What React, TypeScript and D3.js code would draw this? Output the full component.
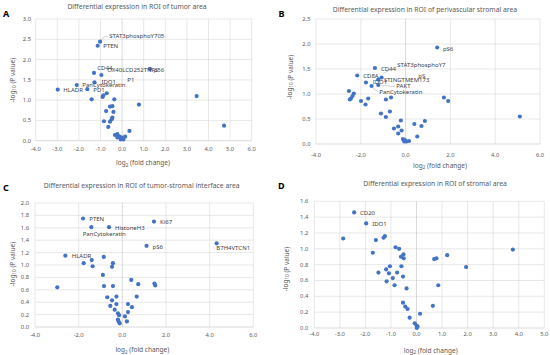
import React from 'react';
import * as d3 from 'd3';

type Pt = [number, number];
// label: text, index of the point it belongs to, pixel offset dx, dy, optional leader [x1,y1,x2,y2] relative to point
type Lab = [string, number, number, number, number[]?];

// ---- A: tumor area
const tumorPts: Pt[] = [
  [-1.02, 2.44], [-1.13, 2.34], [-1.30, 1.67], [-0.96, 1.62], [1.29, 1.77],
  [-1.28, 1.44], [-2.10, 1.37], [-2.98, 1.26], [-1.61, 1.27], [-0.71, 1.17],
  [-0.87, 1.12], [-0.90, 1.08], [-1.41, 1.02], [-0.36, 1.02], [0.78, 0.89],
  [3.45, 1.10], [4.72, 0.37], [-0.56, 0.84], [-0.45, 0.85], [-0.74, 0.73],
  [-0.40, 0.71], [-0.45, 0.57], [-0.48, 0.53], [-0.84, 0.48], [-0.56, 0.47],
  [-0.64, 0.34], [0.34, 0.24], [-0.33, 0.14], [-0.22, 0.16], [-0.13, 0.10],
  [-0.03, 0.08], [0.06, 0.03], [0.14, 0.10], [-0.06, 0.03], [-0.22, 0.08],
];
const tumorLabels: Lab[] = [
  ['STAT3phosphoY705', 0, 9.2, -4.9, [1.6, -1.6, 4, -5, 8, -5]],
  ['PTEN', 1, 5.6, 0.3],
  ['CD44', 2, 3.3, -4.6],
  ['OX40LCD252TNFS', 3, 5.9, -4.2],
  ['p56', 4, 3.6, 1],
  ['IDO1', 5, 7, 0],
  ['PanCytokeratin', 6, 5.6, 0.6],
  ['HLADR', 7, 5.6, 1],
  ['PD1', 8, 6, 1.5],
  ['P1', 3, 26, 5.8],
];
const tumorX = [-4, -3, -2, -1, 0, 1, 2, 3, 4, 5, 6];
const tumorY = [0, 0.5, 1, 1.5, 2, 2.5, 3];

// ---- B: perivascular stromal area
const periPts: Pt[] = [
  [1.41, 1.93], [-1.37, 1.52], [-2.16, 1.37], [-1.07, 1.33], [-1.22, 1.29],
  [-1.77, 1.23], [-1.22, 1.18], [-1.52, 1.16], [-2.53, 1.06], [-2.31, 1.01],
  [-2.37, 0.96], [-2.44, 0.91], [-2.49, 0.89], [-1.99, 0.86], [-1.67, 0.91],
  [-1.79, 0.79], [-0.88, 0.89], [-0.65, 0.93], [1.71, 0.93], [1.90, 0.86],
  [5.10, 0.55], [-1.10, 0.61], [-0.70, 0.65], [-0.88, 0.54], [-0.21, 0.47],
  [-0.52, 0.31], [-0.33, 0.35], [-0.18, 0.27], [-0.33, 0.21], [0.39, 0.40],
  [0.71, 0.36], [0.86, 0.46], [0.52, 0.15], [-0.12, 0.10], [-0.03, 0.08],
  [0.04, 0.05], [0.15, 0.06], [-0.06, 0.05],
];
const periLabels: Lab[] = [
  ['pS6', 0, 5.7, 1.5],
  ['CD44', 1, 6, 1],
  ['CD8A', 2, 6, 1],
  ['STAT3phosphoY7', 3, 15.7, -11.8, [1.7, -4.2, 15, -10.8]],
  ['STINGTMEM173', 4, 5.7, 0.5],
  ['IDO1', 5, 6.7, 0],
  ['PAKT', 6, 18, 1.7, [3, 0.5, 17, 1.5]],
  ['PanCytokeratin', 7, 7.7, 6.3, [1.5, 2, 7, 6]],
  ['pS', 3, 36.7, -1.5],
];
const periX = [-4, -2, 0, 2, 4, 6];
const periY = [0, 0.5, 1, 1.5, 2, 2.5];

// ---- C: tumor-stromal interface area
const interPts: Pt[] = [
  [-1.80, 1.75], [-1.42, 1.61], [-0.61, 1.61], [1.45, 1.70], [1.11, 1.31],
  [4.32, 1.35], [-2.61, 1.15], [-1.77, 1.03], [-1.40, 1.08], [-1.36, 0.98],
  [-0.85, 1.13], [-0.43, 1.03], [-0.47, 0.97], [-0.89, 0.84], [-2.98, 0.64],
  [-0.84, 0.66], [-0.43, 0.66], [0.41, 0.76], [0.73, 0.69], [1.47, 0.70],
  [1.51, 0.67], [0.66, 0.49], [-0.69, 0.48], [-0.27, 0.49], [-0.47, 0.43],
  [-0.27, 0.37], [-0.55, 0.34], [0.26, 0.37], [0.44, 0.32], [-0.35, 0.28],
  [-0.20, 0.22], [-0.15, 0.19], [0.26, 0.24], [0.12, 0.17], [-0.20, 0.12],
  [-0.17, 0.09], [-0.12, 0.06], [0.21, 0.09],
];
const interLabels: Lab[] = [
  ['PTEN', 0, 6.3, 1],
  ['PanCytokeratin', 1, -8.6, 7.1],
  ['HistoneH3', 2, 6, 1],
  ['Ki67', 3, 6, 0.7],
  ['pS6', 4, 6, 1.5],
  ['B7H4VTCN1', 5, -0.3, 5.5],
  ['HLADR', 6, 6.4, 1],
];
const interX = [-4, -2, 0, 2, 4, 6];
const interY = [0, 0.2, 0.4, 0.6, 0.8, 1, 1.2, 1.4, 1.6, 1.8, 2];

// ---- D: stromal area
const stromPts: Pt[] = [
  [-2.44, 1.46], [-1.97, 1.32], [-2.87, 1.13], [-1.59, 1.11], [-1.29, 1.14],
  [-1.24, 1.16], [-1.71, 0.95], [-0.82, 1.02], [-0.68, 1.00], [-0.51, 0.93],
  [-0.61, 0.90], [-0.50, 0.88], [-0.59, 0.78], [-1.04, 0.78], [-1.19, 0.74],
  [-1.49, 0.70], [-1.08, 0.69], [-0.76, 0.70], [-0.53, 0.65], [-0.93, 0.63],
  [-1.17, 0.59], [-0.86, 0.54], [-0.39, 0.50], [0.69, 0.87], [0.78, 0.88],
  [1.20, 0.92], [1.94, 0.77], [3.77, 0.99], [0.85, 0.54], [0.64, 0.28],
  [-0.53, 0.32], [-0.44, 0.27], [-0.35, 0.24], [-0.27, 0.13], [0.14, 0.18],
  [-0.07, 0.06], [0.00, 0.03], [0.01, 0.00], [0.04, 0.02],
];
const stromLabels: Lab[] = [
  ['CD20', 0, 5.8, 0.6],
  ['IDO1', 1, 6, 1],
];
const stromX = [-4, -3, -2, -1, 0, 1, 2, 3, 4, 5];
const stromY = [0, 0.2, 0.4, 0.6, 0.8, 1, 1.2, 1.4, 1.6];

const grey = '#595959';
const font = '"Noto Sans", "Open Sans", sans-serif';

type Cfg = {
  letter: string; title: string; pts: Pt[]; labels: Lab[]; xt: number[]; yt: number[];
  l: number; r: number; t: number; b: number;
  titleX: number; titleY: number; letterX: number; letterY: number;
  yLabX: number; xLabY: number; xTitleX: number; xTitleY: number; yTitleX: number; yTitleY: number;
};

const panels: Cfg[] = [
  { letter: 'A', title: 'Differential expression in ROI of tumor area', pts: tumorPts, labels: tumorLabels, xt: tumorX, yt: tumorY,
    l: 35.7, r: 251.7, t: 19, b: 140.7, titleX: 137, titleY: 9.2, letterX: 3, letterY: 16.5,
    yLabX: 31, xLabY: 151, xTitleX: 143, xTitleY: 165, yTitleX: 13, yTitleY: 80 },
  { letter: 'B', title: 'Differential expression in ROI of perivascular stromal area', pts: periPts, labels: periLabels, xt: periX, yt: periY,
    l: 316, r: 540, t: 19, b: 144, titleX: 425, titleY: 12.4, letterX: 278.5, letterY: 17,
    yLabX: 310.5, xLabY: 157, xTitleX: 440, xTitleY: 167.5, yTitleX: 290.7, yTitleY: 77 },
  { letter: 'C', title: 'Differential expression in ROI of tumor-stromal interface area', pts: interPts, labels: interLabels, xt: interX, yt: interY,
    l: 35, r: 253.3, t: 203, b: 327, titleX: 141.7, titleY: 188.4, letterX: 3, letterY: 190.5,
    yLabX: 29, xLabY: 336.5, xTitleX: 142.3, xTitleY: 352, yTitleX: 13.3, yTitleY: 264 },
  { letter: 'D', title: 'Differential expression in ROI of stromal area', pts: stromPts, labels: stromLabels, xt: stromX, yt: stromY,
    l: 314.3, r: 544.3, t: 201.3, b: 328, titleX: 435, titleY: 186, letterX: 278, letterY: 188.5,
    yLabX: 308.3, xLabY: 336, xTitleX: 430.7, xTitleY: 352.7, yTitleX: 286.7, yTitleY: 269 },
];

const Panel = ({ c }: { c: Cfg }) => {
  const x = d3.scaleLinear().domain(d3.extent(c.xt) as [number, number]).range([c.l, c.r]);
  const y = d3.scaleLinear().domain(d3.extent(c.yt) as [number, number]).range([c.b, c.t]);
  return (
    <g fontFamily={font}>
      <text x={c.letterX} y={c.letterY} fontSize={9} fontWeight="bold" fill="#000">{c.letter}</text>
      <text x={c.titleX} y={c.titleY} fontSize={6.8} fill={grey} textAnchor="middle">{c.title}</text>
      {c.yt.map(v => (
        <line key={'h' + v} x1={c.l} x2={c.r} y1={y(v)} y2={y(v)} stroke={v === 0 ? '#bfbfbf' : '#d9d9d9'} strokeWidth={0.6} />
      ))}
      {c.xt.map(v => (
        <line key={'v' + v} x1={x(v)} x2={x(v)} y1={c.t} y2={c.b} stroke={v === 0 ? '#bfbfbf' : '#d9d9d9'} strokeWidth={0.6} />
      ))}
      {c.yt.map(v => (
        <text key={'yl' + v} x={c.yLabX} y={y(v) + 2} fontSize={5.8} fill={grey} textAnchor="end">{v.toFixed(1)}</text>
      ))}
      {c.xt.map(v => (
        <text key={'xl' + v} x={x(v)} y={c.xLabY} fontSize={5.8} fill={grey} textAnchor="middle">{v.toFixed(1)}</text>
      ))}
      <text x={c.xTitleX} y={c.xTitleY} fontSize={6.5} fill={grey} textAnchor="middle">
        log<tspan fontSize={4.6} dy={1.5}>2</tspan><tspan dy={-1.5}> (fold change)</tspan>
      </text>
      <text transform={`translate(${c.yTitleX},${c.yTitleY}) rotate(-90)`} fontSize={6.5} fill={grey} textAnchor="middle" dominantBaseline="middle">
        -log<tspan fontSize={4.6} dy={1.5}>10</tspan><tspan dy={-1.5}> (P value)</tspan>
      </text>
      {c.pts.map((p, i) => (
        <circle key={'p' + i} cx={x(p[0])} cy={y(p[1])} r={2.1} fill="#4472C4" />
      ))}
      {c.labels.map(([txt, i, dx, dy, lead], k) => {
        const px = x(c.pts[i][0]);
        const py = y(c.pts[i][1]);
        const path = lead ? 'M' + d3.range(0, lead.length, 2).map(j => `${px + lead[j]},${py + lead[j + 1]}`).join('L') : null;
        return (
          <g key={'l' + k}>
            {path && <path d={path} fill="none" stroke="#a6a6a6" strokeWidth={0.5} />}
            <text x={px + dx} y={py + dy} fontSize={6} fill="#404040" dominantBaseline="middle">{txt}</text>
          </g>
        );
      })}
    </g>
  );
};

export default function App() {
  return (
    <svg width={550} height={355} style={{ position: 'absolute', left: 0, top: 0, background: '#fff' }}>
      <rect width={550} height={355} fill="#fff" />
      {panels.map(c => <Panel key={c.letter} c={c} />)}
    </svg>
  );
}
